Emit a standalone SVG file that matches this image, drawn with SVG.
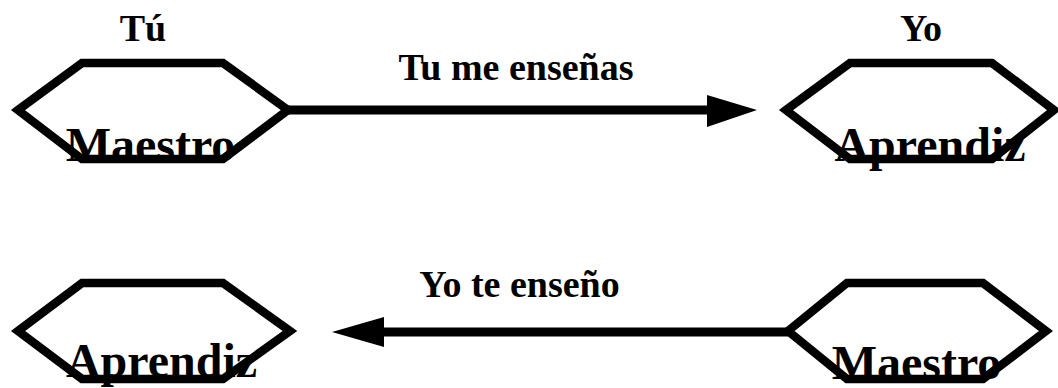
<svg xmlns="http://www.w3.org/2000/svg" width="1058" height="388" viewBox="0 0 1058 388">
<style>
.hex{fill:none;stroke:#000;stroke-width:8.5;stroke-linejoin:miter}
.lbl{font-family:"Liberation Serif","Times New Roman",serif;font-weight:bold;font-size:38px;fill:#000;text-anchor:middle}
.big{font-family:"Liberation Serif","Times New Roman",serif;font-weight:bold;font-size:48px;fill:#000;text-anchor:middle}
.conn{stroke:#000;stroke-width:9;fill:none}
</style>
<rect width="1058" height="388" fill="#fff"/>
<g id="node-maestro-top">
<text class="big" x="150.5" y="161">Maestro</text>
<polygon class="hex" points="18,110 82,63 223,63 288,110 223,159 82,159"/>
</g>
<g id="node-aprendiz-top">
<text class="big" x="930" y="161">Aprendiz</text>
<polygon class="hex" points="786,110 850,63 992,63 1054,110 992,159 850,159"/>
</g>
<g id="node-aprendiz-bottom">
<text class="big" x="161.5" y="377">Aprendiz</text>
<polygon class="hex" points="18,331 82,283 223,283 290,331 223,379 82,379"/>
</g>
<g id="node-maestro-bottom">
<text class="big" x="916.5" y="379">Maestro</text>
<polygon class="hex" points="788,331 847,283 983,283 1046,331 983,379 847,379"/>
</g>
<g id="labels">
<text class="lbl" x="143" y="41">Tú</text>
<text class="lbl" x="921" y="41">Yo</text>
<text class="lbl" x="516" y="80">Tu me enseñas</text>
<text class="lbl" x="519.5" y="297">Yo te enseño</text>
</g>
<g id="connectors">
<line class="conn" x1="288" y1="110" x2="710" y2="110"/>
<polygon points="707,95 757,110 707,127" fill="#000"/>
<line class="conn" x1="381" y1="332" x2="788" y2="332"/>
<polygon points="384,317 332,332 384,347" fill="#000"/>
</g>
</svg>
